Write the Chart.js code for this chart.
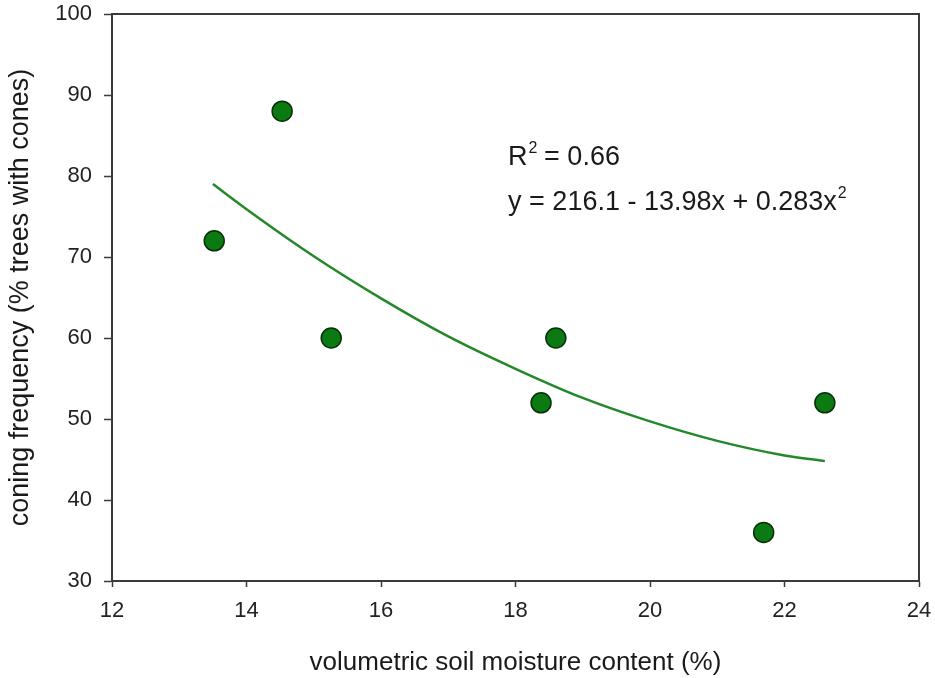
<!DOCTYPE html>
<html>
<head>
<meta charset="utf-8">
<script src="https://cdn.jsdelivr.net/npm/chart.js@4"></script>
<style>
  html, body { margin: 0; padding: 0; background: #fff; }
  #wrap { width: 935px; height: 678px; }
</style>
</head>
<body>
<div id="wrap"><canvas id="chart" width="935" height="678"></canvas></div>
<script>
// measured points
const moisture = [13.52, 14.53, 15.26, 18.38, 18.6, 21.69, 22.6]
const coning = [72, 88, 60, 52, 60, 36, 52]

// fitted curve
const fitX = [13.5, 14, 15, 16, 17, 18, 19, 20, 21, 22, 22.6]
const fitY = [79, 75.9, 70.1, 64.9, 60.2, 56.2, 52.6, 49.7, 47.3, 45.5, 44.8]

const xTicks = [12, 14, 16, 18, 20, 22, 24]
const yTicks = [30, 40, 50, 60, 70, 80, 90, 100]

const FONT = "'Liberation Sans', Arial, sans-serif"

const boxPlugin = {
    id: 'box',
    afterDraw(c) {
        const { ctx, chartArea: a, scales } = c
        ctx.save()
        ctx.strokeStyle = '#3a3a3a'
        ctx.lineWidth = 2
        ctx.strokeRect(a.left, a.top, a.right - a.left, a.bottom - a.top)

        // annotation text
        const x0 = scales.x.getPixelForValue(17.89)
        ctx.fillStyle = '#1a1a1a'
        ctx.font = `27px ${FONT}`
        ctx.textBaseline = 'alphabetic'
        let y1 = scales.y.getPixelForValue(81.4)
        ctx.fillText('R', x0, y1)
        let w = ctx.measureText('R').width
        ctx.font = `16px ${FONT}`
        ctx.fillText('2', x0 + w + 1, y1 - 12)
        ctx.font = `27px ${FONT}`
        ctx.fillText(' = 0.66', x0 + w + 9, y1)

        let y2 = scales.y.getPixelForValue(75.8)
        const eq = 'y = 216.1 - 13.98x + 0.283x'
        ctx.fillText(eq, x0, y2)
        w = ctx.measureText(eq).width
        ctx.font = `16px ${FONT}`
        ctx.fillText('2', x0 + w + 1, y2 - 12)
        ctx.restore()
    }
}

function drawChart() {
    const ctx = document.getElementById('chart')
    new Chart(ctx, {
        type: 'scatter',
        data: {
            datasets: [{
                data: moisture.map((x, i) => ({ x, y: coning[i] })),
                backgroundColor: '#0b7a12',
                borderColor: '#083008',
                borderWidth: 1.5,
                pointRadius: 10,
                order: 0
            }, {
                type: 'line',
                data: fitX.map((x, i) => ({ x, y: fitY[i] })),
                borderColor: '#24882a',
                borderWidth: 2.5,
                pointRadius: 0,
                cubicInterpolationMode: 'monotone',
                fill: false,
                order: 1
            }]
        },
        options: {
            responsive: false,
            animation: false,
            layout: { padding: { top: 14, right: 16, left: 0, bottom: 0 } },
            plugins: {
                legend: { display: false },
                tooltip: { enabled: false }
            },
            scales: {
                x: {
                    type: 'linear',
                    min: 12, max: 24,
                    afterBuildTicks: s => { s.ticks = xTicks.map(v => ({ value: v })) },
                    afterFit: s => { s.height = 97; s.paddingRight = 0; s.paddingLeft = 0 },
                    grid: { drawOnChartArea: false, drawTicks: true, tickLength: 6, tickWidth: 1.5, tickColor: '#3a3a3a' },
                    border: { display: true, color: '#3a3a3a', width: 2 },
                    ticks: { color: '#222', font: { family: FONT, size: 22 }, padding: 11, maxRotation: 0 },
                    title: {
                        display: true,
                        text: 'volumetric soil moisture content (%)',
                        color: '#1a1a1a',
                        font: { family: FONT, size: 26 },
                        padding: { top: 14, bottom: 0 }
                    }
                },
                y: {
                    type: 'linear',
                    min: 30, max: 100,
                    afterBuildTicks: s => { s.ticks = yTicks.map(v => ({ value: v })) },
                    afterFit: s => { s.width = 112; s.paddingTop = 0; s.paddingBottom = 0 },
                    grid: { drawOnChartArea: false, drawTicks: true, tickLength: 8, tickWidth: 1.5, tickColor: '#3a3a3a' },
                    border: { display: true, color: '#3a3a3a', width: 2 },
                    ticks: { color: '#222', font: { family: FONT, size: 22 }, padding: 12 },
                    title: {
                        display: true,
                        text: 'coning frequency (% trees with cones)',
                        color: '#1a1a1a',
                        font: { family: FONT, size: 27 },
                        padding: { top: 4, bottom: 0 }
                    }
                }
            }
        },
        plugins: [boxPlugin]
    })
}

drawChart()
</script>
</body>
</html>
